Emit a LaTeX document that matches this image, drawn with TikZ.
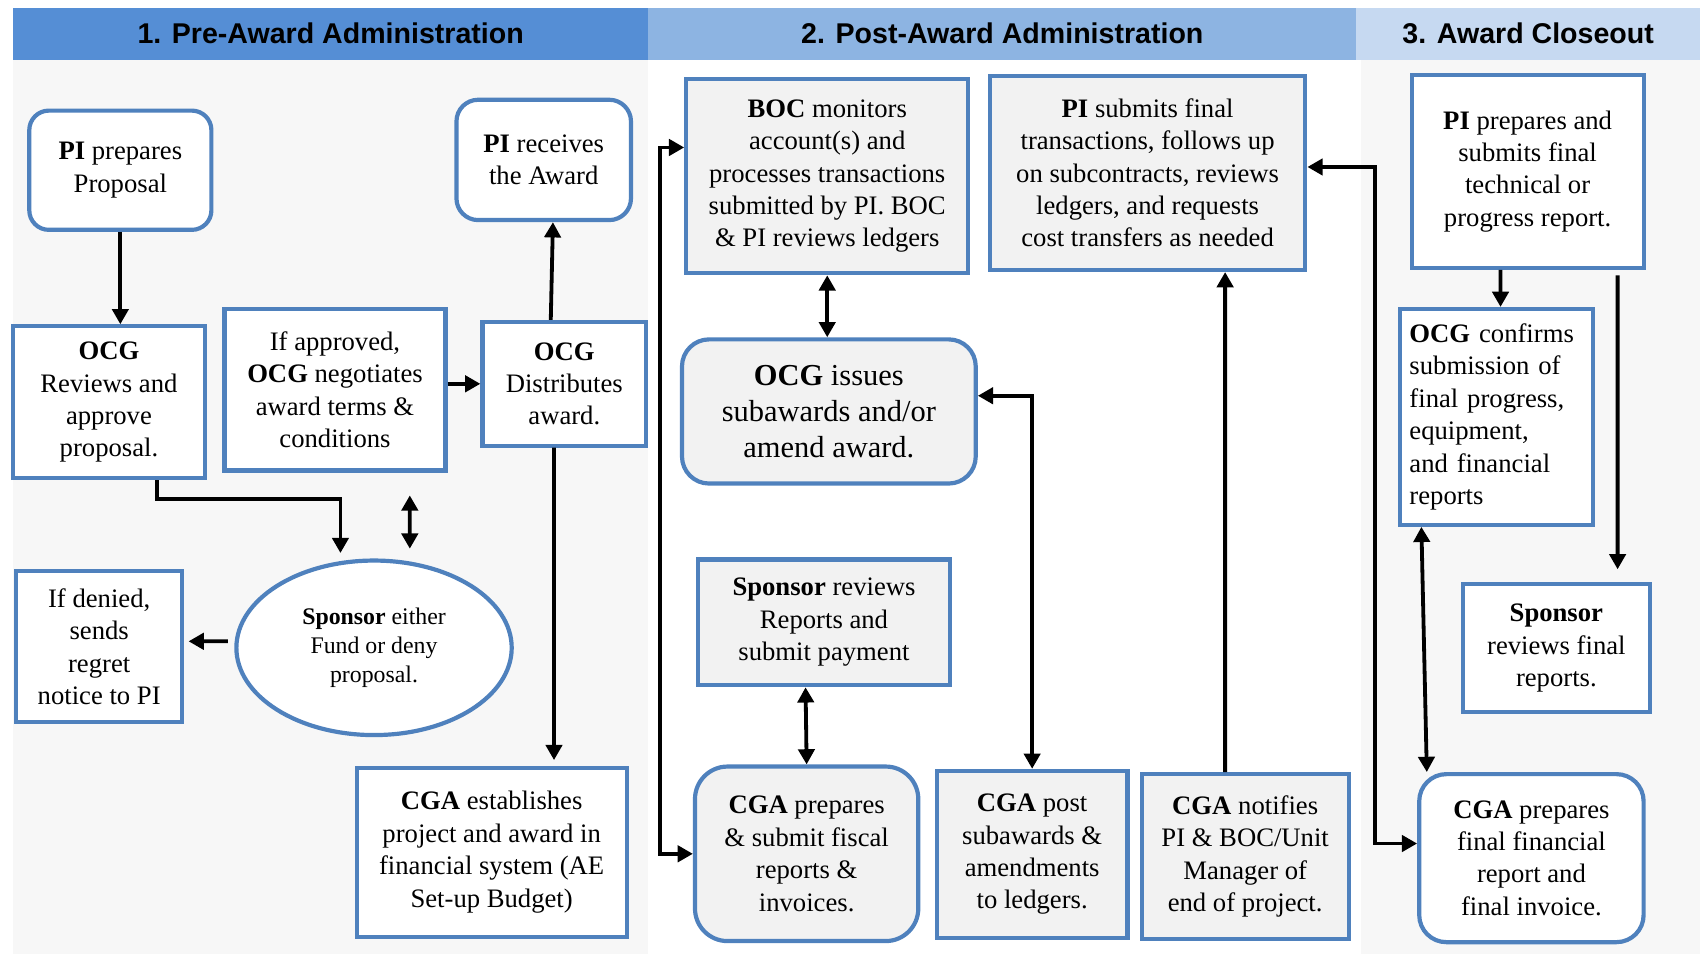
\documentclass[tikz,border=0pt]{standalone}
\usepackage{fontspec}
\setmainfont{Liberation Serif}
\newfontfamily\headfont{Liberation Sans}
\usepackage{tikz}
\usetikzlibrary{arrows.meta, shapes.geometric, positioning}
\definecolor{BoxBlue}{RGB}{79,129,189}
\definecolor{HeadPre}{RGB}{85,142,213}
\definecolor{HeadPost}{RGB}{141,180,226}
\definecolor{HeadClose}{RGB}{198,217,241}
\definecolor{PanelGray}{RGB}{247,247,247}
\definecolor{BoxGray}{RGB}{242,242,242}
\tikzset{dims/.style 2 args={minimum width=#1cm, minimum height=#2cm}}

\begin{document}
\begin{tikzpicture}[x=0.02cm, y=-0.02cm,
		box/.style={draw=BoxBlue, line width=2.2pt, fill=white, align=center, inner sep=0pt, font=\fontsize{14}{17}\selectfont},
		gbox/.style={box, fill=BoxGray},
		head/.style={inner sep=0pt, font=\headfont\bfseries\fontsize{15}{18}\selectfont},
		arr/.style={-{Triangle[length=8pt,width=8.5pt]}, line width=2pt},
		darr/.style={{Triangle[length=8pt,width=8.5pt]}-{Triangle[length=8pt,width=8.5pt]}, line width=2pt}]
	\useasboundingbox (0,0) rectangle (1568,880);
	\fill[PanelGray] (12,55) rectangle (598,880);
	\fill[PanelGray] (1255,55) rectangle (1568,880);
	\node[head, fill=HeadPre, dims={11.72}{0.96}] (hpre) at (305,31) {1. Pre-Award Administration};
	\node[head, fill=HeadPost, dims={13.06}{0.96}] (hpost) at (924.5,31) {2. Post-Award Administration};
	\node[head, fill=HeadClose, dims={6.34}{0.96}] (hclose) at (1409.5,31) {3. Award Closeout};

	% pre-award
	\node[box, rounded corners=0.36cm, dims={3.36}{2.2}] (propPI) at (111,157) {\textbf{PI} prepares\\Proposal};
	\node[box, dims={3.54}{2.8}] (ocgRev) at (100.5,371) {\textbf{OCG}\\Reviews and\\approve\\proposal.};
	\node[box, dims={4.08}{2.98}] (ocgNeg) at (309,359.5) {If approved,\\\textbf{OCG} negotiates\\award terms \&\\conditions};
	\node[box, dims={3.02}{2.28}] (ocgDist) at (520.5,354) {\textbf{OCG}\\Distributes\\award.};
	\node[box, rounded corners=0.4cm, dims={3.22}{2.22}] (piRecv) at (501.5,147.5) {\textbf{PI} receives\\the Award};
	\node[box, ellipse, dims={5.08}{3.22}, font=\fontsize{12.5}{15}\selectfont] (sponsor) at (345,597.5) {\textbf{Sponsor} either\\Fund or deny\\proposal.};
	\node[box, dims={3.06}{2.78}] (denied) at (91.5,596.5) {If denied,\\sends\\regret\\notice to PI};
	\node[box, dims={4.98}{3.12}] (cgaEst) at (453.5,786) {\textbf{CGA} establishes\\project and award in\\financial system (AE\\Set-up Budget)};

	% post-award
	\node[gbox, dims={5.2}{3.58}] (bocMon) at (763,162.5) {\textbf{BOC} monitors\\account(s) and\\processes transactions\\submitted by PI. BOC\\\& PI reviews ledgers};
	\node[gbox, dims={5.82}{3.58}] (piFinal) at (1058.5,159.5) {\textbf{PI} submits final\\transactions, follows up\\on subcontracts, reviews\\ledgers, and requests\\cost transfers as needed};
	\node[gbox, rounded corners=0.5cm, dims={5.42}{2.66}, font=\fontsize{16}{19}\selectfont] (ocgIss) at (764.5,379.5) {\textbf{OCG} issues\\subawards and/or\\amend award.};
	\node[gbox, dims={4.64}{2.32}] (spRev) at (760,574) {\textbf{Sponsor} reviews\\Reports and\\submit payment};
	\node[gbox, rounded corners=0.6cm, dims={4.12}{3.22}] (cgaFis) at (744,787.5) {\textbf{CGA} prepares\\\& submit fiscal\\reports \&\\invoices.};
	\node[gbox, dims={3.52}{3.08}] (cgaPost) at (952,788) {\textbf{CGA} post\\subawards \&\\amendments\\to ledgers.};
	\node[gbox, dims={3.82}{3.04}] (cgaNot) at (1148.5,790) {\textbf{CGA} notifies\\PI \& BOC/Unit\\Manager of\\end of project.};

	% closeout
	\node[box, dims={4.28}{3.56}] (piTech) at (1409,158) {\textbf{PI} prepares and\\submits final\\technical or\\progress report.};
	\node[box, dims={3.56}{3.98}, text width=3.2cm, align=left] (ocgConf) at (1380,384.5) {\textbf{OCG} confirms\\submission of\\final progress,\\equipment,\\and financial\\reports};
	\node[box, dims={3.46}{2.36}] (spFinal) at (1435.5,598) {\textbf{Sponsor}\\reviews final\\reports.};
	\node[box, rounded corners=0.5cm, dims={4.14}{3.1}] (cgaFinal) at (1412.5,791.5) {\textbf{CGA} prepares\\final financial\\report and\\final invoice.};

	\draw[arr] (propPI.south) -- (propPI.south |- ocgRev.north);
	\draw[arr, shorten >=0.1cm] ([xshift=0.89cm]ocgRev.south) -- ++(0,17) -| ([xshift=-0.62cm]sponsor.north);
	\draw[darr, shorten <=0.42cm, shorten >=0.18cm] ([xshift=1.38cm]ocgNeg.south) -- ([xshift=0.66cm]sponsor.north);
	\draw[arr] (ocgNeg.east |- ocgDist.west) -- (ocgDist.west);
	\draw[arr] ([xshift=-0.25cm]ocgDist.north) -- ([xshift=0.17cm]piRecv.south);
	\draw[arr, shorten >=0.1cm] ([xshift=-0.19cm]ocgDist.south) -- ([xshift=1.15cm]cgaEst.north);
	\draw[arr, shorten <=0.12cm, shorten >=0.08cm] ([yshift=0.12cm]sponsor.west) -- ([yshift=0.1cm]denied.east);

	\draw[darr] ([yshift=0.53cm]bocMon.west) -- ++(-22,0) |- (cgaFis.west);
	\draw[darr] (bocMon.south) -- (bocMon.south |- ocgIss.north);
	\draw[darr] ([yshift=0.29cm]ocgIss.east) -| (cgaPost.north);
	\draw[arr] ([xshift=-0.37cm]cgaNot.north) -- ([xshift=1.43cm]piFinal.south);
	\draw[darr] ([xshift=-0.34cm]spRev.south) -- (cgaFis.north);
	\draw[darr] ([yshift=0.11cm]piFinal.east) -- ++(62,0) |- ([yshift=0.27cm]cgaFinal.west);

	\draw[arr] ([xshift=-0.5cm]piTech.south) -- ([xshift=0.08cm]ocgConf.north);
	\draw[arr, shorten <=0.1cm, shorten >=0.24cm] ([xshift=1.66cm]piTech.south) -- ([xshift=1.13cm]spFinal.north);
	\draw[darr] ([xshift=-1.38cm]ocgConf.south) -- ([xshift=-1.93cm]cgaFinal.north);
\end{tikzpicture}
\end{document}
